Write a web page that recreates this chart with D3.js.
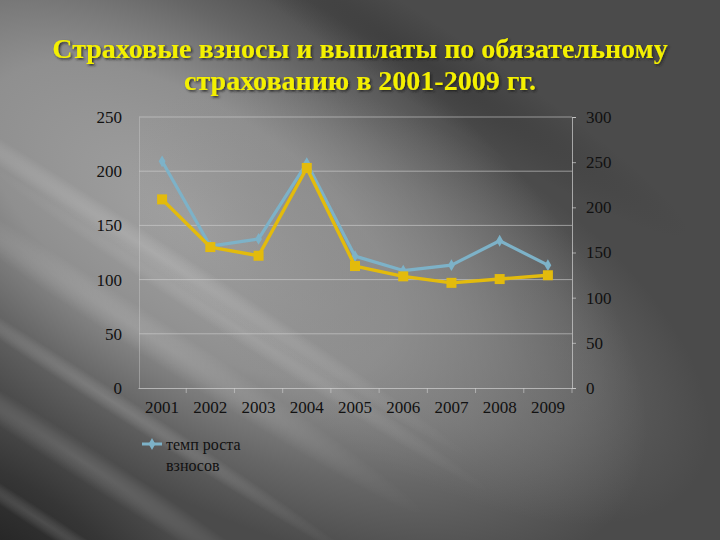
<!DOCTYPE html>
<html><head><meta charset="utf-8">
<script src="https://cdn.jsdelivr.net/npm/d3@7"></script>
<style>html,body{margin:0;padding:0;background:#4b4b4b;}svg{display:block;}</style>
</head><body>
<script>
const years = ["2001","2002","2003","2004","2005","2006","2007","2008","2009"];
// темп роста взносов (right axis, 0-300)
const growthRate = [251, 157, 165, 249, 146, 130, 136, 163, 136];
// second series (left axis, 0-250)
const payments = [174, 130, 122, 203, 112.5, 103, 97, 100.5, 104];
const leftTicks = [0, 50, 100, 150, 200, 250];
const rightTicks = [0, 50, 100, 150, 200, 250, 300];
const titleLines = ["Страховые взносы и выплаты по обязательному", "страхованию в 2001-2009 гг."];
const legendLines = ["темп роста", "взносов"];

const W = 720, H = 540;
const svg = d3.select("body").append("svg").attr("width", W).attr("height", H);
const defs = svg.append("defs");

function radial(id, color, stops) {
  const g = defs.append("radialGradient").attr("id", id);
  stops.forEach(([o, op]) => g.append("stop").attr("offset", o).attr("stop-color", color).attr("stop-opacity", op));
}
radial("glow", "#a6a6a6", [[0, 0.95], [0.45, 0.75], [0.75, 0.3], [1, 0]]);
radial("glow2", "#8a8a8a", [[0, 0.6], [0.6, 0.3], [1, 0]]);
radial("darkBL", "#1c1c1c", [[0, 0.85], [0.6, 0.45], [1, 0]]);
radial("darkTop", "#303030", [[0, 0.45], [1, 0]]);
radial("streak", "#ffffff", [[0, 1], [0.5, 0.6], [1, 0]]);

// background
svg.append("rect").attr("width", W).attr("height", H).attr("fill", "#4b4b4b");
const bgG = svg.append("g");
const blobs = [
  {cx: 190, cy: 220, rx: 520, ry: 250, f: "glow", o: 1},
  {cx: 420, cy: 300, rx: 330, ry: 160, f: "glow2", o: 1},
  {cx: 0, cy: 560, rx: 300, ry: 130, f: "darkBL", o: 1},
  {cx: 420, cy: 60, rx: 320, ry: 40, f: "darkTop", o: 1},
  // light streaks
  {cx: 150, cy: 250, rx: 380, ry: 14, f: "streak", o: 0.16},
  {cx: 140, cy: 330, rx: 340, ry: 20, f: "streak", o: 0.14},
  {cx: 110, cy: 400, rx: 300, ry: 11, f: "streak", o: 0.16},
  {cx: 80, cy: 460, rx: 260, ry: 17, f: "streak", o: 0.14},
  {cx: 240, cy: 330, rx: 300, ry: 12, f: "streak", o: 0.12},
  {cx: 40, cy: 520, rx: 200, ry: 10, f: "streak", o: 0.14}
];
blobs.forEach(b => bgG.append("ellipse").attr("cx", b.cx).attr("cy", b.cy).attr("rx", b.rx).attr("ry", b.ry)
  .attr("transform", `rotate(33 ${b.cx} ${b.cy})`).attr("fill", `url(#${b.f})`).attr("opacity", b.o));

// scales
const x = d3.scaleBand().domain(years).range([138, 572]);
const cx = d => x(d) + x.bandwidth() / 2;
const yL = d3.scaleLinear().domain([0, 250]).range([388, 117]);
const yR = d3.scaleLinear().domain([0, 300]).range([388, 117]);

// gridlines
svg.append("g").selectAll("line").data(leftTicks.filter(t => t > 0)).join("line")
  .attr("x1", 139).attr("x2", 572).attr("y1", d => yL(d)).attr("y2", d => yL(d))
  .attr("stroke", "#d0d0d0").attr("stroke-opacity", 0.6).attr("stroke-width", 1);

const fontAxis = "'Liberation Serif', 'DejaVu Serif', serif";

// left axis
const gL = svg.append("g").attr("transform", "translate(139,0)")
  .call(d3.axisLeft(yL).tickValues(leftTicks).tickSize(0).tickPadding(17));
gL.select(".domain").attr("stroke", "#c8c8c8").attr("stroke-opacity", 0.45);
gL.selectAll("text").attr("font-family", fontAxis).attr("font-size", 17).attr("fill", "#111");

// right axis
const gR = svg.append("g").attr("transform", "translate(572,0)")
  .call(d3.axisRight(yR).tickValues(rightTicks).tickSize(4).tickPadding(10));
gR.select(".domain").attr("stroke", "#d0d0d0").attr("stroke-opacity", 0.7);
gR.selectAll(".tick line").attr("stroke", "#d0d0d0").attr("stroke-opacity", 0.7);
gR.selectAll("text").attr("font-family", fontAxis).attr("font-size", 17).attr("fill", "#111");

// x axis
const gX = svg.append("g").attr("transform", "translate(0,388)")
  .call(d3.axisBottom(x).tickSize(0).tickPadding(13));
gX.select(".domain").attr("stroke", "#d0d0d0").attr("stroke-opacity", 0.7);
gX.selectAll("text").attr("font-family", fontAxis).attr("font-size", 17).attr("fill", "#111");
svg.append("g").selectAll("line").data(years.slice(1).concat(["end"])).join("line")
  .attr("x1", d => d === "end" ? 572 : x(d)).attr("x2", d => d === "end" ? 572 : x(d))
  .attr("y1", 388).attr("y2", 393).attr("stroke", "#d0d0d0").attr("stroke-opacity", 0.6);

// lines
const blue = "#7db2c8", gold = "#e3bb0c";
const lineB = d3.line().x((d, i) => cx(years[i])).y(d => yR(d));
const lineY = d3.line().x((d, i) => cx(years[i])).y(d => yL(d));
svg.append("path").datum(growthRate).attr("d", lineB).attr("fill", "none")
  .attr("stroke", blue).attr("stroke-width", 3.2).attr("stroke-linejoin", "round");
svg.append("g").selectAll("path").data(growthRate).join("path")
  .attr("transform", (d, i) => `translate(${cx(years[i])},${yR(d)})`)
  .attr("d", d3.symbol(d3.symbolDiamond, 40)).attr("fill", blue);
svg.append("path").datum(payments).attr("d", lineY).attr("fill", "none")
  .attr("stroke", gold).attr("stroke-width", 3.4).attr("stroke-linejoin", "round");
svg.append("g").selectAll("rect").data(payments).join("rect")
  .attr("x", (d, i) => cx(years[i]) - 5).attr("y", d => yL(d) - 5)
  .attr("width", 10).attr("height", 10).attr("fill", gold);

// legend
svg.append("line").attr("x1", 142).attr("x2", 162).attr("y1", 444).attr("y2", 444)
  .attr("stroke", blue).attr("stroke-width", 3);
svg.append("path").attr("transform", "translate(152,444)").attr("d", d3.symbol(d3.symbolDiamond, 40)).attr("fill", blue);
svg.append("g").selectAll("text").data(legendLines).join("text")
  .attr("x", 166).attr("y", (d, i) => 450 + i * 21)
  .attr("font-family", fontAxis).attr("font-size", 16).attr("fill", "#111").text(d => d);

// title
const sh = defs.append("filter").attr("id", "tsh").attr("x", "-10%").attr("y", "-30%").attr("width", "120%").attr("height", "160%");
sh.append("feDropShadow").attr("dx", 1.5).attr("dy", 1.5).attr("stdDeviation", 0.8)
  .attr("flood-color", "#222").attr("flood-opacity", 0.85);
svg.append("g").attr("font-family", "'Liberation Serif', 'DejaVu Serif', serif")
  .attr("font-weight", "bold").attr("font-size", 28).attr("text-anchor", "middle")
  .attr("filter", "url(#tsh)")
  .selectAll("text").data(titleLines).join("text")
  .attr("x", 360).attr("y", (d, i) => 58 + i * 32).attr("fill", "#f4f000").text(d => d);
</script>
</body></html>
